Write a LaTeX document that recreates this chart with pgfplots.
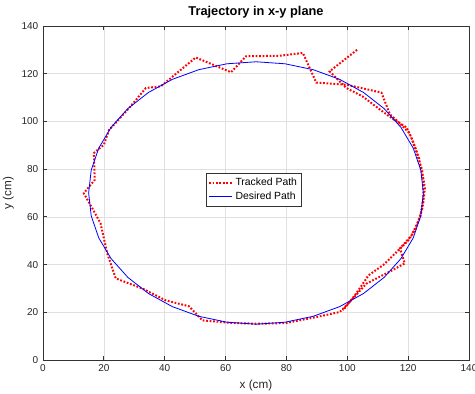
\documentclass[border=0pt]{standalone}
\usepackage{pgfplots}
\pgfplotsset{compat=1.18}
\usepackage{fontspec}
\setmainfont{Liberation Sans}
\begin{document}
\begin{tikzpicture}
\begin{axis}[
  scale only axis,
  width=319.5pt, height=250.5pt,
  xmin=0, xmax=140, ymin=0, ymax=140,
  xtick={0,20,...,140}, ytick={0,20,...,140},
  tick pos=both, tick align=inside,
  major tick length=3pt,
  grid=major,
  grid style={color=black!12, line width=0.5pt},
  axis line style={color=black!80, line width=0.6pt},
  tick style={color=black!80, line width=0.6pt},
  ticklabel style={font=\fontsize{7.5}{9}\selectfont, color=black!85},
  /pgf/number format/assume math mode=true,
  xlabel={x (cm)}, ylabel={y (cm)},
  label style={font=\fontsize{8.8}{10}\selectfont, color=black!85},
  xlabel style={yshift=1pt},
  ylabel style={yshift=-1pt},
  title={\textbf{Trajectory in x-y plane}},
  title style={font=\fontsize{9.6}{11}\selectfont, yshift=-4pt},
  legend style={at={(rel axis cs:0.495,0.509)}, anchor=center,
    font=\fontsize{7.8}{9}\selectfont, draw=black!80, line width=0.5pt,
    inner sep=1.5pt, row sep=-1pt},
  legend cell align=left,
]
\addplot[red, line width=1.5pt, dash pattern=on 1.3pt off 1.3pt] coordinates {
(103.2,130) (94.2,121) (99.7,114) (105,110.5) (110.7,105) (115,101) (119.5,97.5)
(121.5,92) (123.5,85) (125,75) (125,68) (124,60) (121,52) (117.3,46.8)
(118.9,40.5) (113.9,37) (109.6,34.2) (106.3,32) (100.8,24.3) (97.5,20.1)
(89.8,18) (79.9,15.5) (71,15.2) (62.3,15.5) (52.4,16.6) (48,22.5) (40.3,25)
(32.6,30) (23.9,34.2) (21.1,44.7) (18.9,57.3) (16.2,63.6) (13.4,69.9)
(17,75.5) (16.7,86.7) (20,90.2) (21.7,96.4) (25,101) (28.3,105.6)
(33.8,114) (38.7,114.7) (50.2,126.8) (61.8,120.6) (66.7,127.3) (77.7,127.5)
(85.4,128.7) (89.8,116.3) (99.7,115.4) (111.2,112.1) (114,103) (117,99.5)
(120.5,95) (122.5,88) (124.5,80) (125.5,72) (124.8,64) (122.5,55) (120,50)
(116,45) (112,40) (107,35.5) (103,28) (98.6,20.8)
};
\addlegendentry{Tracked Path}
\addplot[blue, line width=0.6pt] coordinates {
(125,70) (124.16,79.55) (121.68,88.81) (117.63,97.5) (112.13,105.35)
(105.35,112.13) (97.5,117.63) (88.81,121.68) (79.55,124.16) (70,125)
(60.45,124.16) (51.19,121.68) (42.5,117.63) (34.65,112.13) (27.87,105.35)
(22.37,97.5) (18.32,88.81) (15.84,79.55) (15,70) (15.84,60.45) (18.32,51.19)
(22.37,42.5) (27.87,34.65) (34.65,27.87) (42.5,22.37) (51.19,18.32)
(60.45,15.84) (70,15) (79.55,15.84) (88.81,18.32) (97.5,22.37)
(105.35,27.87) (112.13,34.65) (117.63,42.5) (121.68,51.19) (124.16,60.45)
(125,70)
};
\addlegendentry{Desired Path}
\end{axis}
\pgfresetboundingbox
\path[use as bounding box] ([shift={(-32.25pt,-25.5pt)}]current axis.south west) rectangle ([shift={(4.5pt,19.5pt)}]current axis.north east);
\end{tikzpicture}
\end{document}
